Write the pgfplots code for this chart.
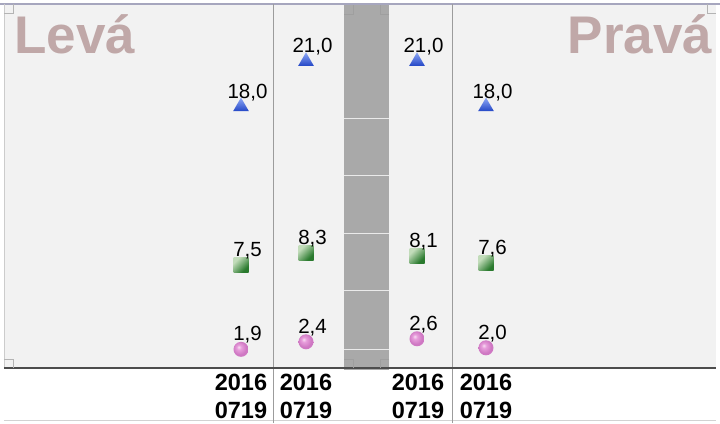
\documentclass[border=0pt]{standalone}
\usepackage{pgfplots}
\pgfplotsset{compat=1.18}
\usepackage{fontspec}
\setmainfont{Liberation Sans}

\definecolor{panelbg}{HTML}{F2F2F2}
\definecolor{bandc}{HTML}{A9A9A9}
\definecolor{bandgrid}{HTML}{EAEAEA}
\definecolor{sepc}{HTML}{9C9C9C}
\definecolor{axisc}{HTML}{4D4D4D}
\definecolor{topc}{HTML}{A6A6BE}
\definecolor{markc}{HTML}{B4B4B4}
\definecolor{titlec}{HTML}{C0A8A8}
\definecolor{trilight}{HTML}{8EA8F6}
\definecolor{tridark}{HTML}{2447C6}
\definecolor{sqlight}{HTML}{C2DCBA}
\definecolor{sqdark}{HTML}{2A7A2E}
\definecolor{balllight}{HTML}{F8DDF2}
\definecolor{ballmid}{HTML}{E79DDB}
\definecolor{balldark}{HTML}{CF78C3}

% shaded marks
\pgfdeclareverticalshading{shtri}{100bp}{color(0bp)=(tridark); color(25bp)=(tridark); color(75bp)=(trilight); color(100bp)=(trilight)}
\pgfdeclareverticalshading{shsq}{100bp}{color(0bp)=(sqdark); color(30bp)=(sqdark); color(72bp)=(sqlight); color(100bp)=(sqlight)}
\pgfdeclareradialshading{shball}{\pgfpoint{-8bp}{8bp}}{color(0bp)=(balllight); color(8bp)=(ballmid); color(22bp)=(balldark); color(50bp)=(balldark)}

\pgfdeclareplotmark{gtri}{%
  \pgfpathmoveto{\pgfqpoint{0pt}{\pgfplotmarksize}}%
  \pgfpathlineto{\pgfqpoint{0.866\pgfplotmarksize}{-0.5\pgfplotmarksize}}%
  \pgfpathlineto{\pgfqpoint{-0.866\pgfplotmarksize}{-0.5\pgfplotmarksize}}%
  \pgfpathclose
  \pgfshadepath{shtri}{0}\pgfusepath{}}
\pgfdeclareplotmark{gsq}{%
  \pgfpathrectanglecorners{\pgfqpoint{-\pgfplotmarksize}{-\pgfplotmarksize}}{\pgfqpoint{\pgfplotmarksize}{\pgfplotmarksize}}%
  \pgfshadepath{shsq}{45}\pgfusepath{}}
\pgfdeclareplotmark{gball}{%
  \pgfpathcircle{\pgfpointorigin}{\pgfplotmarksize}%
  \pgfshadepath{shball}{0}\pgfusepath{}}

\begin{document}
\begin{tikzpicture}
\begin{axis}[
    at={(4pt,55pt)}, anchor=south west,
    width=712pt, height=364pt, scale only axis,
    xmin=4, xmax=716, ymin=0.663, ymax=24.801,
    clip=false,
    axis line style={draw=none},
    axis background/.style={fill=panelbg},
    ytick=\empty,
    xtick={241,306,418,486},
    xticklabels={{2016\\0719},{2016\\0719},{2016\\0719},{2016\\0719}},
    xtick style={draw=none},
    xticklabel style={font=\fontsize{23.5}{27.5}\selectfont\bfseries, align=center,
        anchor=north, inner sep=0pt, yshift=-6pt},
    only marks,
    mark options={draw opacity=0},
    nodes near coords={\pgfmathprintnumber[fixed, fixed zerofill, precision=1,
        use comma, assume math mode=true]{\pgfplotspointmeta}},
    nodes near coords style={font=\fontsize{20.5}{24}\selectfont, anchor=base,
        inner sep=0pt, xshift=6.5pt, yshift=8.5pt, text=black},
]
% middle grey band
\fill[bandc] (axis cs:344,0.53) rectangle (axis cs:389,24.801);
\draw[bandgrid, line width=1pt] (axis cs:344,17.24) -- (axis cs:389,17.24);
\draw[bandgrid, line width=1pt] (axis cs:344,13.40) -- (axis cs:389,13.40);
\draw[bandgrid, line width=1pt] (axis cs:344,9.55) -- (axis cs:389,9.55);
\draw[bandgrid, line width=1pt] (axis cs:344,5.77) -- (axis cs:389,5.77);
\draw[bandgrid, line width=1pt] (axis cs:344,1.92) -- (axis cs:389,1.92);
% frame lines
\draw[topc, line width=1.5pt] (axis cs:0,24.801) -- (axis cs:720,24.801);
\draw[gray!40, line width=0.8pt] (axis cs:4,0.663) -- (axis cs:4,24.801);
\draw[gray!35, line width=1pt] (axis cs:4,-2.85) -- (axis cs:716,-2.85);
\draw[sepc, line width=1pt] (axis cs:273,-3.0) -- (axis cs:273,24.801);
\draw[sepc, line width=1pt] (axis cs:452,-3.0) -- (axis cs:452,24.801);
\draw[axisc, line width=2pt] (axis cs:4,0.663) -- (axis cs:716,0.663);
% corner marks
\draw[markc, line width=0.8pt] (axis cs:4,24.204) -- (axis cs:13,24.204) -- (axis cs:13,24.801);
\draw[markc, line width=0.8pt] (axis cs:4,1.26) -- (axis cs:13,1.26) -- (axis cs:13,0.663);
\draw[markc, line width=0.8pt] (axis cs:716,24.204) -- (axis cs:707,24.204) -- (axis cs:707,24.801);
\draw[gray!75, line width=0.8pt] (axis cs:344,24.138) -- (axis cs:353,24.138) -- (axis cs:353,24.735);
\draw[gray!75, line width=0.8pt] (axis cs:389,24.138) -- (axis cs:380,24.138) -- (axis cs:380,24.735);
\draw[gray!75, line width=0.8pt] (axis cs:344,1.26) -- (axis cs:353,1.26) -- (axis cs:353,0.663);
\draw[gray!75, line width=0.8pt] (axis cs:389,1.26) -- (axis cs:380,1.26) -- (axis cs:380,0.663);
% panel titles
\node[anchor=base west, inner sep=0pt, text=titlec, font=\fontsize{53}{60}\selectfont\bfseries]
  at (axis cs:14,21.55) {Levá};
\node[anchor=base east, inner sep=0pt, text=titlec, font=\fontsize{53}{60}\selectfont\bfseries]
  at (axis cs:712.5,21.55) {Pravá};

\addplot[mark=gtri, mark size=9pt] coordinates {
    (241,18.0) (306,21.0) (417,21.0) (486,18.0)
};
\addplot[mark=gsq, mark size=7.5pt] coordinates {
    (241,7.5) (306,8.3) (417,8.1) (486,7.6)
};
\addplot[mark=gball, mark size=7.5pt] coordinates {
    (241,1.9) (306,2.4) (417,2.6) (486,2.0)
};
\end{axis}
\pgfresetboundingbox
\useasboundingbox (0,0) rectangle (720pt,423pt);
\end{tikzpicture}
\end{document}
